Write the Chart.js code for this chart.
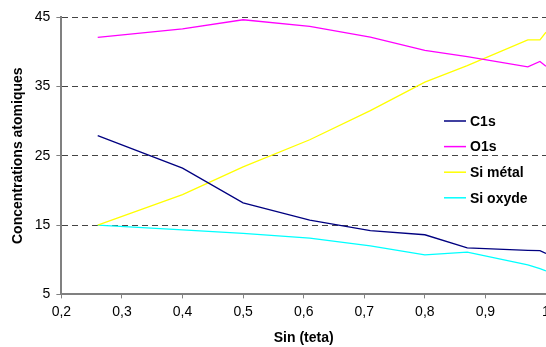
<!DOCTYPE html>
<html>
<head>
<meta charset="utf-8">
<script src="https://cdn.jsdelivr.net/npm/chart.js@4/dist/chart.umd.min.js"></script>
<style>
  html, body { margin: 0; padding: 0; background: #fff; }
  #wrap { width: 546px; height: 347px; }
</style>
</head>
<body>
<div id="wrap"><canvas id="chart"></canvas></div>
<script>
const sinTeta = [0.26, 0.40, 0.50, 0.61, 0.71, 0.80, 0.87, 0.97, 0.99, 1.0];
const c1s     = [27.9, 23.2, 18.2, 15.7, 14.2, 13.6, 11.7, 11.35, 11.3, 10.9];
const o1s     = [42.05, 43.3, 44.6, 43.65, 42.1, 40.2, 39.3, 37.8, 38.6, 37.9];
const siMetal = [15.0, 19.4, 23.4, 27.3, 31.5, 35.6, 38.0, 41.7, 41.7, 42.8];
const siOxyde = [15.0, 14.3, 13.8, 13.1, 12.0, 10.7, 11.1, 9.25, 8.7, 8.4];
const yTicks  = [5, 15, 25, 35, 45];

const series = [
  { label: 'C1s', values: c1s, color: '#000080' },
  { label: 'O1s', values: o1s, color: '#ff00ff' },
  { label: 'Si métal', values: siMetal, color: '#ffff00' },
  { label: 'Si oxyde', values: siOxyde, color: '#00ffff' }
];

const font = 'Arial, "Liberation Sans", sans-serif';

// legend drawn inside the plot, no box
const innerLegend = {
  id: 'innerLegend',
  afterDraw(chart) {
    const ctx = chart.ctx;
    ctx.save();
    ctx.font = 'bold 14px ' + font;
    ctx.textBaseline = 'middle';
    chart.data.datasets.forEach((ds, i) => {
      const y = 121 + i * 25.6;
      ctx.strokeStyle = ds.borderColor;
      ctx.lineWidth = 1.5;
      ctx.beginPath();
      ctx.moveTo(444, y);
      ctx.lineTo(466, y);
      ctx.stroke();
      ctx.fillStyle = '#000';
      ctx.fillText(ds.label, 470, y + 1);
    });
    ctx.restore();
  }
};

new Chart(document.getElementById('chart'), {
  type: 'line',
  data: {
    datasets: series.map(s => ({
      label: s.label,
      data: sinTeta.map((x, i) => ({ x, y: s.values[i] })),
      borderColor: s.color,
      backgroundColor: s.color,
      borderWidth: 1.3,
      pointRadius: 0,
      tension: 0
    }))
  },
  options: {
    responsive: true,
    maintainAspectRatio: false,
    animation: false,
    layout: { padding: { top: 17, left: 10, right: 0, bottom: 0 } },
    plugins: {
      legend: { display: false },
      tooltip: { enabled: false }
    },
    scales: {
      x: {
        type: 'linear',
        min: 0.2, max: 1,
        ticks: {
          stepSize: 0.1,
          color: '#000',
          font: { family: font, size: 14 },
          padding: 5,
          maxRotation: 0,
          callback: v => (Math.round(v * 10) / 10).toString().replace('.', ',')
        },
        grid: { display: true, drawOnChartArea: false, tickLength: 4, tickColor: '#808080', tickWidth: 1 },
        border: { color: '#808080', width: 2 },
        title: { display: true, text: 'Sin (teta)', color: '#000', font: { family: font, size: 14, weight: 'bold' }, padding: { top: 5, bottom: 0 } },
        afterFit(scale) { scale.paddingRight = 0; scale.paddingLeft = 0; }
      },
      y: {
        min: 5, max: 45,
        afterBuildTicks(scale) { scale.ticks = yTicks.map(v => ({ value: v })); },
        ticks: {
          color: '#000',
          font: { family: font, size: 14 },
          padding: 6
        },
        grid: {
          color: c => c.tick && c.tick.value === 5 ? 'rgba(0,0,0,0)' : '#444',
          lineWidth: 1,
          tickLength: 5,
          tickColor: '#808080',
          tickBorderDash: []
        },
        border: { color: '#808080', width: 2, dash: [6, 4] },
        title: { display: true, text: 'Concentrations atomiques', color: '#000', font: { family: font, size: 14, weight: 'bold' }, padding: { top: 0, bottom: 2 } }
      }
    }
  },
  plugins: [innerLegend]
});
</script>
</body>
</html>
